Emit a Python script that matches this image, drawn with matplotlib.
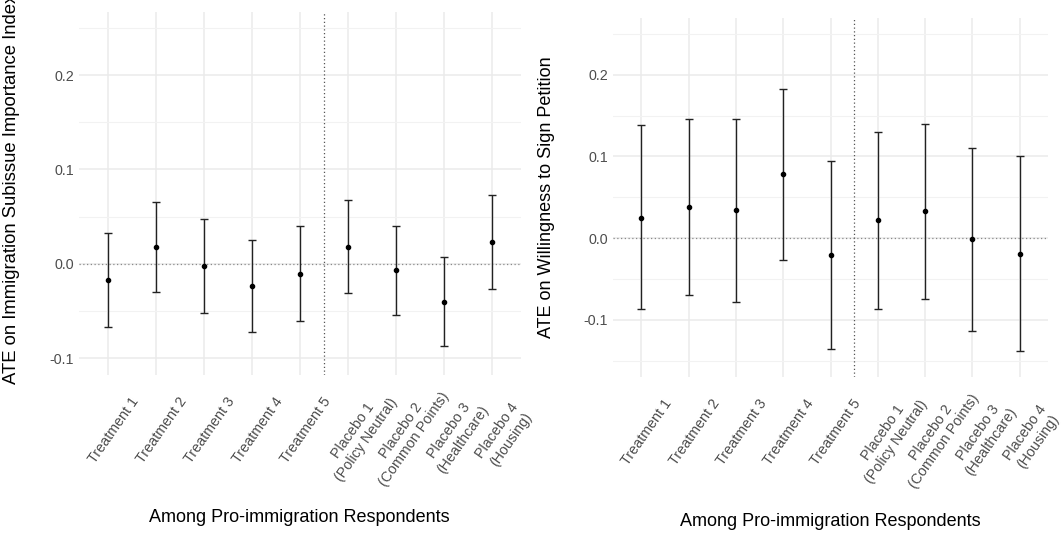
import matplotlib
matplotlib.use("Agg")
import matplotlib.pyplot as plt
import numpy as np

plt.rcParams['font.family'] = ['Liberation Sans', 'DejaVu Sans']

categories = ["Treatment 1", "Treatment 2", "Treatment 3", "Treatment 4", "Treatment 5",
              "Placebo 1\n(Policy Neutral)", "Placebo 2\n(Common Points)",
              "Placebo 3\n(Healthcare)", "Placebo 4\n(Housing)"]

# Left panel: ATE on Immigration Subissue Importance Index
imp_est = [-0.017, 0.018, -0.002, -0.023, -0.011, 0.018, -0.007, -0.040, 0.023]
imp_lo = [-0.067, -0.030, -0.052, -0.072, -0.061, -0.031, -0.054, -0.087, -0.027]
imp_hi = [0.033, 0.066, 0.048, 0.025, 0.040, 0.068, 0.040, 0.007, 0.073]

# Right panel: ATE on Willingness to Sign Petition
pet_est = [0.025, 0.038, 0.034, 0.078, -0.021, 0.022, 0.033, -0.001, -0.019]
pet_lo = [-0.087, -0.070, -0.078, -0.027, -0.136, -0.087, -0.074, -0.113, -0.138]
pet_hi = [0.138, 0.146, 0.146, 0.182, 0.094, 0.130, 0.140, 0.110, 0.100]

ylabels = ["ATE on Immigration Subissue Importance Index", "ATE on Willingness to Sign Petition"]
xlabel = "Among Pro-immigration Respondents"
yticks = [-0.1, 0.0, 0.1, 0.2]
ytick_labels = ["-0.1", "0.0", "0.1", "0.2"]
yminor = [-0.15, -0.05, 0.05, 0.15, 0.25]

W, H = 1063, 536
fig = plt.figure(figsize=(W / 100, H / 100), dpi=100)

def px_axes(x0, y0, x1, y1):
    return fig.add_axes([x0 / W, 1 - y1 / H, (x1 - x0) / W, (y1 - y0) / H])

ax1 = px_axes(79, 12, 520.5, 375)
ax2 = px_axes(613, 18.3, 1048, 377)

panels = [
    (ax1, imp_est, imp_lo, imp_hi, (-0.1177, 0.2668), ylabels[0], 13.3),
    (ax2, pet_est, pet_lo, pet_hi, (-0.1698, 0.269), ylabels[1], 13.0),
]

x = np.arange(1, len(categories) + 1)
for ax, est, lo, hi, ylim, ylab, yfs in panels:
    est = np.array(est); lo = np.array(lo); hi = np.array(hi)
    for s in ax.spines.values():
        s.set_visible(False)
    ax.set_facecolor('white')
    ax.set_yticks(yticks)
    ax.set_yticklabels(ytick_labels)
    ax.set_yticks(yminor, minor=True)
    ax.set_xticks(x)
    ax.set_xticklabels(categories, rotation=55, ha='center', va='top',
                       rotation_mode='anchor', multialignment='center')
    ax.set_xlim(0.4, 9.6)
    ax.set_ylim(*ylim)
    ax.grid(True, which='major', color='#EBEBEB', linewidth=1.1, zorder=0)
    ax.grid(True, which='minor', axis='y', color='#F2F2F2', linewidth=0.8, zorder=0)
    ax.set_axisbelow(True)
    ax.tick_params(axis='both', which='both', length=0, labelsize=10.3, labelcolor='#4D4D4D')
    ax.tick_params(axis='y', pad=3.5)
    ax.tick_params(axis='x', pad=37)
    # reference lines
    ax.axhline(0, color='#8A8A8A', linestyle=(0, (1, 2)), linewidth=0.9, zorder=1)
    ax.axvline(5.5, color='#555555', linestyle=(0, (1, 2)), linewidth=0.9, zorder=1)
    # error bars
    ax.errorbar(x, est, yerr=[est - lo, hi - est], fmt='o', color='black',
                ecolor='#222222', elinewidth=1.0, capsize=2.6, capthick=1.0,
                markersize=3.0, zorder=3)
    ax.set_ylabel(ylab, fontsize=yfs, color='black')
    ax.set_xlabel(xlabel, fontsize=13, color='black', va='center')
    ax.set_ylim(*ylim)

ax1.yaxis.set_label_coords((20 - 79) / 441.5, (375 - 189) / 363)
ax2.yaxis.set_label_coords((555 - 613) / 435, 0.5)
ax1.xaxis.set_label_coords(0.5, (375 - 518) / 363)
ax2.xaxis.set_label_coords(0.5, (377 - 521) / 358.7)

fig.savefig("out.png", dpi=100, facecolor='white')
